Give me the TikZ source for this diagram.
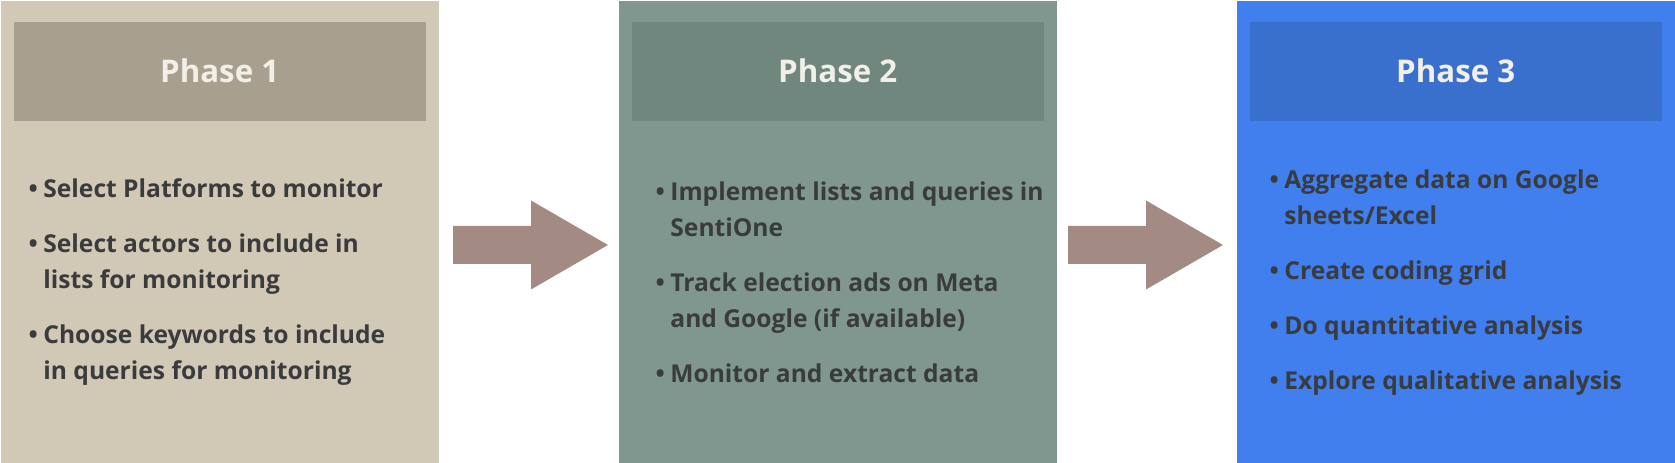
\documentclass[tikz,border=0pt]{standalone}
\usepackage{fontspec}
\setmainfont{Open Sans}
\usetikzlibrary{positioning}
\definecolor{sandbg}{HTML}{D2C8B6}
\definecolor{sandhead}{HTML}{A89F8E}
\definecolor{sagebg}{HTML}{7F978F}
\definecolor{sagehead}{HTML}{6F877F}
\definecolor{bluebg}{HTML}{417EEE}
\definecolor{bluehead}{HTML}{3A70CD}
\definecolor{arrowcol}{HTML}{A38B84}
\definecolor{headtext}{HTML}{F2EEE8}
\definecolor{bodytext}{HTML}{3A3B3D}
\newcommand{\bul}{\makebox[0.147cm][l]{\textbullet}}
\newcommand{\ind}{\hspace*{0.147cm}}
\newcommand{\blockarrow}[2]{% x, y of the tail
    \fill[arrowcol, shift={(#1,#2)}] (0,-0.19) -- (0.78,-0.19) -- (0.78,-0.445)
        -- (1.55,0) -- (0.78,0.445) -- (0.78,0.19) -- (0,0.19) -- cycle
}
\tikzset{
    panel/.style={inner sep=0, minimum width=4.38cm, minimum height=4.63cm, anchor=north west},
    header/.style={inner sep=0, minimum width=4.12cm, minimum height=0.99cm,
        text=headtext, font=\fontsize{8.9}{11}\selectfont\bfseries},
    items/.style={inner sep=0, anchor=west, align=left, text=bodytext,
        font=\fontsize{7}{10.24}\selectfont\bfseries}
}
\begin{document}
\begin{tikzpicture}
        \useasboundingbox (0,0) rectangle (16.75,-4.63);
        \node[panel, fill=sandbg] (p1) at (0,0) {};
        \node[header, fill=sandhead, below=0.21cm of p1.north] (h1) {Phase 1};
        \node[items] (b1) at (0.28,-2.82) {\bul Select Platforms to monitor\\[5.4pt]
            \bul Select actors to include in\\ \ind lists for monitoring\\[5.4pt]
            \bul Choose keywords to include\\ \ind in queries for monitoring};
        \node[panel, fill=sagebg] (p2) at (6.18,0) {};
        \node[header, fill=sagehead, below=0.21cm of p2.north] (h2) {Phase 2};
        \node[items] (b2) at (6.55,-2.82) {\bul Implement lists and queries in\\ \ind SentiOne\\[5.4pt]
            \bul Track election ads on Meta\\ \ind and Google (if available)\\[5.4pt]
            \bul Monitor and extract data};
        \node[panel, fill=bluebg] (p3) at (12.36,0) {};
        \node[header, fill=bluehead, below=0.21cm of p3.north] (h3) {Phase 3};
        \node[items] (b3) at (12.69,-2.825) {\bul Aggregate data on Google\\ \ind sheets/Excel\\[5.4pt]
            \bul Create coding grid\\[5.4pt]
            \bul Do quantitative analysis\\[5.4pt]
            \bul Explore qualitative analysis};
        \blockarrow{4.53}{-2.45};
        \blockarrow{10.68}{-2.45};
    \end{tikzpicture}
\end{document}
